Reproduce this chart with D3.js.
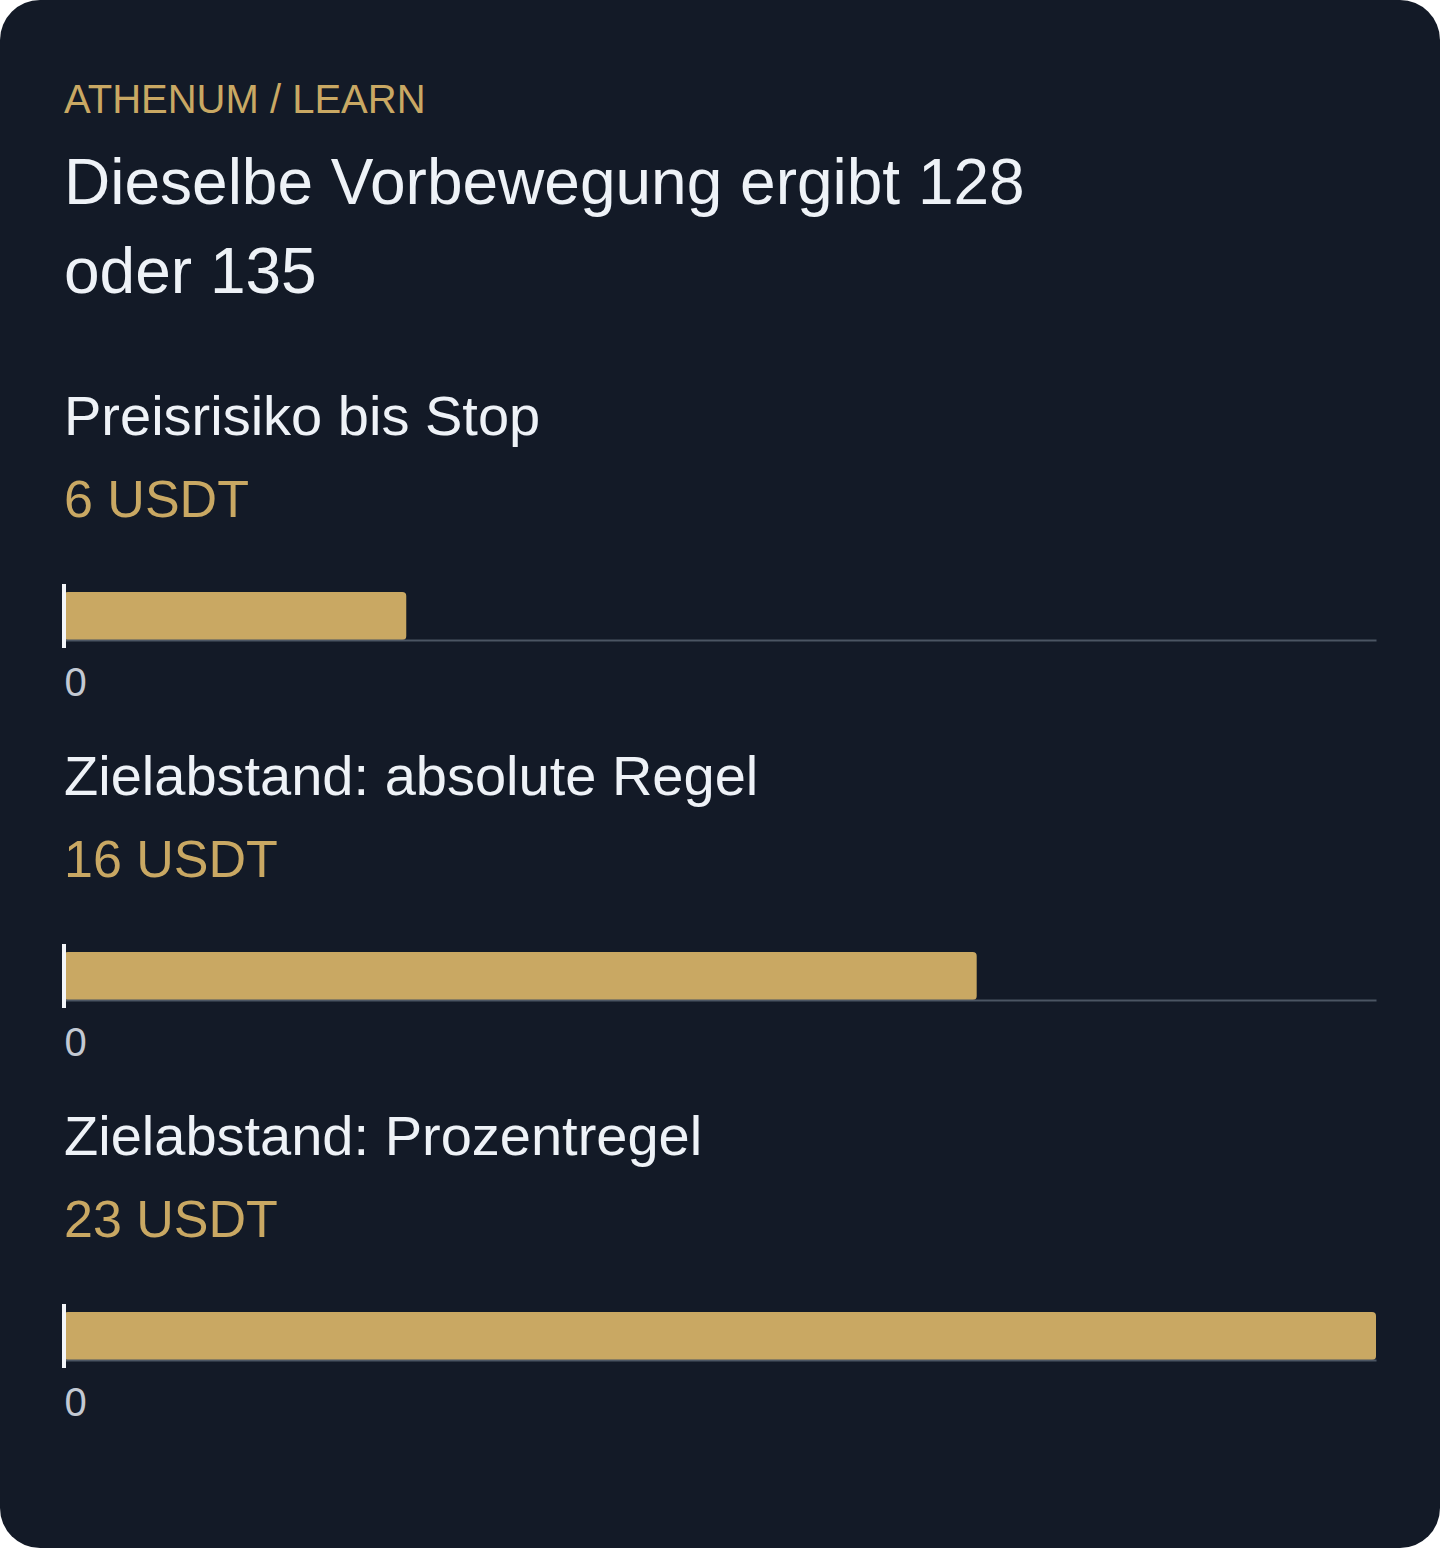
<!DOCTYPE html>
<html>
<head>
<meta charset="utf-8">
<script src="https://cdn.jsdelivr.net/npm/d3@7"></script>
<style>
  html, body { margin: 0; padding: 0; background: #ffffff; }
  svg { display: block; font-family: "Liberation Sans", Arial, sans-serif; }
</style>
</head>
<body>
<svg id="chart"></svg>
<script>
// Data
const eyebrow = "ATHENUM / LEARN";
const title = "Dieselbe Vorbewegung ergibt 128 oder 135";
const labels = ["Preisrisiko bis Stop", "Zielabstand: absolute Regel", "Zielabstand: Prozentregel"];
const values = [6, 16, 23];
const unit = "USDT";
const tickValues = [0];

const width = 1440;
const height = 1548;
const left = 64;  // left padding of the card
const right = 1376;
const panelStep = 360;

const colors = {
  card: "#131a27",
  gold: "#c9a863",
  text: "#eef2f7",
  tick: "#c3c9d3",
  axis: "#4b5563",
  zero: "#f3f5f8"
};

const svg = d3.select("#chart")
  .attr("width", width)
  .attr("height", height);

// Card background
svg.append("rect")
  .attr("width", width)
  .attr("height", height)
  .attr("rx", 40)
  .attr("fill", colors.card);

// Eyebrow
svg.append("text")
  .attr("x", left)
  .attr("y", 113)
  .attr("fill", colors.gold)
  .attr("font-size", 40)
  .text(eyebrow);

// Title, wrapped to a max width
const titleText = svg.append("text")
  .attr("x", left)
  .attr("y", 204)
  .attr("fill", colors.text)
  .attr("font-size", 64);

function wrap(textSel, str, maxWidth, lineHeight) {
  const words = str.split(" ");
  let line = [];
  let tspan = textSel.append("tspan").attr("x", left).attr("dy", 0);
  words.forEach(w => {
    line.push(w);
    tspan.text(line.join(" "));
    if (tspan.node().getComputedTextLength() > maxWidth && line.length > 1) {
      line.pop();
      tspan.text(line.join(" "));
      line = [w];
      tspan = textSel.append("tspan").attr("x", left).attr("dy", lineHeight).text(w);
    }
  });
}
wrap(titleText, title, 1060, 89);

// x scale shared across panels
const x = d3.scaleLinear()
  .domain([0, d3.max(values)])
  .range([left, right]);

const panels = svg.selectAll("g.panel")
  .data(values.map((v, i) => ({ value: v, label: labels[i] })))
  .join("g")
  .attr("class", "panel")
  .attr("transform", (d, i) => `translate(0, ${i * panelStep})`);

panels.append("text")
  .attr("x", left)
  .attr("y", 435)
  .attr("fill", colors.text)
  .attr("font-size", 56)
  .text(d => d.label);

panels.append("text")
  .attr("x", left)
  .attr("y", 517)
  .attr("fill", colors.gold)
  .attr("font-size", 52)
  .text(d => `${d.value} ${unit}`);

// bars
const barTop = 592;
const barBottom = 640;

panels.append("rect")
  .attr("x", x(0))
  .attr("y", barTop)
  .attr("width", d => x(d.value) - x(0))
  .attr("height", barBottom - barTop)
  .attr("rx", 4)
  .attr("fill", colors.gold);

// axis along the bar baseline
panels.each(function () {
  const g = d3.select(this).append("g")
    .attr("transform", `translate(0, ${barBottom})`)
    .call(d3.axisBottom(x).tickValues(tickValues).tickSize(0).tickPadding(0));
  g.select(".domain").attr("stroke", colors.axis).attr("stroke-width", 2);
  g.selectAll(".tick text")
    .attr("fill", colors.tick)
    .attr("font-size", 40)
    .attr("font-family", "'Liberation Sans', Arial, sans-serif")
    .attr("text-anchor", "start")
    .attr("dy", 0)
    .attr("y", 56);
});

// zero rule
panels.append("line")
  .attr("x1", x(0))
  .attr("x2", x(0))
  .attr("y1", barTop - 8)
  .attr("y2", barBottom + 8)
  .attr("stroke", colors.zero)
  .attr("stroke-width", 4);
</script>
</body>
</html>
